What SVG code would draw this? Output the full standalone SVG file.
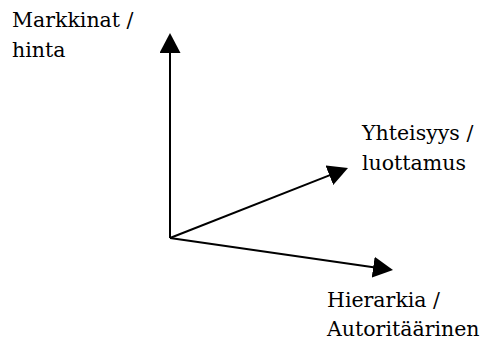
<svg xmlns="http://www.w3.org/2000/svg" width="481" height="341" viewBox="0 0 481 341">
  <style>
    .axis { stroke: #000; stroke-width: 2; fill: none; marker-end: url(#head); }
    .lbl { font-family: "DejaVu Serif", serif; font-size: 20.5px; fill: #000; }
  </style>
  <defs>
    <marker id="head" markerUnits="userSpaceOnUse" markerWidth="22" markerHeight="22" refX="2" refY="10.5" orient="auto">
      <path d="M0,0 L20,10.5 L0,21 Z" fill="#000"/>
    </marker>
  </defs>
  <rect width="481" height="341" fill="#fff"/>

  <g id="connectors">
    <line class="axis" x1="170" y1="238" x2="170" y2="51"/>
    <line class="axis" x1="170" y1="238" x2="331.25" y2="174.59"/>
    <line class="axis" x1="170" y1="238" x2="375.18" y2="267.44"/>
  </g>

  <g id="markkinat">
    <text class="lbl" x="12" y="27">Markkinat /</text>
    <text class="lbl" x="12" y="57">hinta</text>
  </g>
  <g id="yhteisyys">
    <text class="lbl" x="362" y="140">Yhteisyys /</text>
    <text class="lbl" x="362" y="170">luottamus</text>
  </g>
  <g id="hierarkia">
    <text class="lbl" x="327" y="307">Hierarkia /</text>
    <text class="lbl" x="327" y="336">Autoritäärinen</text>
  </g>
</svg>
